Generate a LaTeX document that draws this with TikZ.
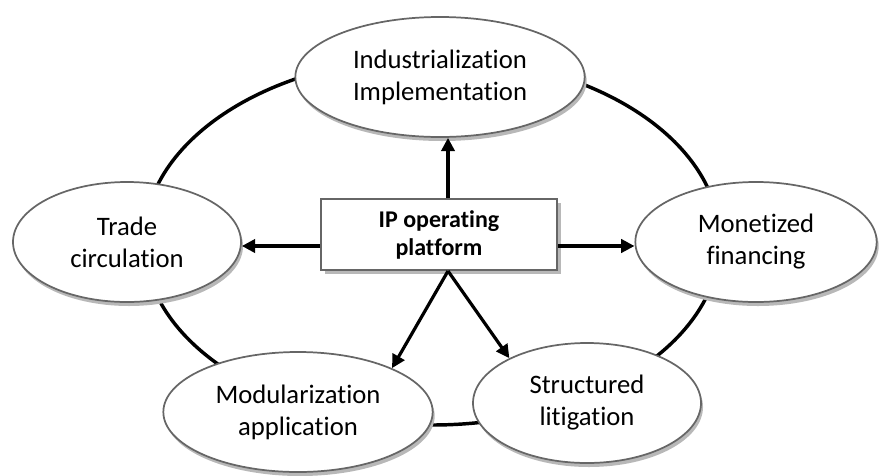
\documentclass[tikz,border=0pt]{standalone}
\usepackage{fontspec}
\setmainfont{Carlito}[Ligatures={NoCommon,NoContextual}]
\usetikzlibrary{shapes.geometric,shadows,arrows.meta}
\tikzset{
  idea/.style={ellipse,draw=black!60,line width=1.3pt,fill=white,inner sep=0pt,
    minimum height=90pt,align=center,font=\fontsize{20}{24}\selectfont,
    drop shadow={shadow xshift=1.5pt,shadow yshift=-3pt,fill=black!28,opacity=1}},
  hub/.style={rectangle,draw=black!60,line width=1.3pt,fill=white,
    minimum width=177pt,minimum height=53pt,align=center,
    font=\bfseries\fontsize{18}{21}\selectfont,
    drop shadow={shadow xshift=3pt,shadow yshift=-3pt,fill=black!28,opacity=1}},
  ring/.style={line width=2.6pt},
  arr/.style={line width=2.4pt,-{Triangle[length=10pt,width=10pt]}}
}
\begin{document}
\begin{tikzpicture}[x=0.75pt,y=-0.75pt]
\useasboundingbox (0,0) rectangle (880,475);
\draw[ring] (432,241) ellipse[x radius=216pt,y radius=138pt];
\node (top) [idea,minimum width=217pt] at (440,77) {Industrialization\\Implementation};
\node (trade) [idea,minimum width=171pt] at (127,242) {Trade\\circulation};
\node (money) [idea,minimum width=181pt] at (756,242) {Monetized\\financing};
\node (modul) [idea,minimum width=202pt] at (298,412) {Modularization\\application};
\node (law) [idea,minimum width=171pt] at (587,403) {Structured\\litigation};
\node (box) [hub] at (439,234.5) {IP operating\\platform};
\coordinate (mid) at (448,246);
\coordinate (apex) at (448,271);
\draw[arr] (box.north -| mid) -- (top.south -| mid);
\draw[arr] (box.west |- mid) -- (trade.east |- mid);
\draw[arr] (box.east |- mid) -- (money.west |- mid);
\draw[arr] (apex) -- (modul.25);
\draw[arr] (apex) -- (law.150);
\end{tikzpicture}
\end{document}
